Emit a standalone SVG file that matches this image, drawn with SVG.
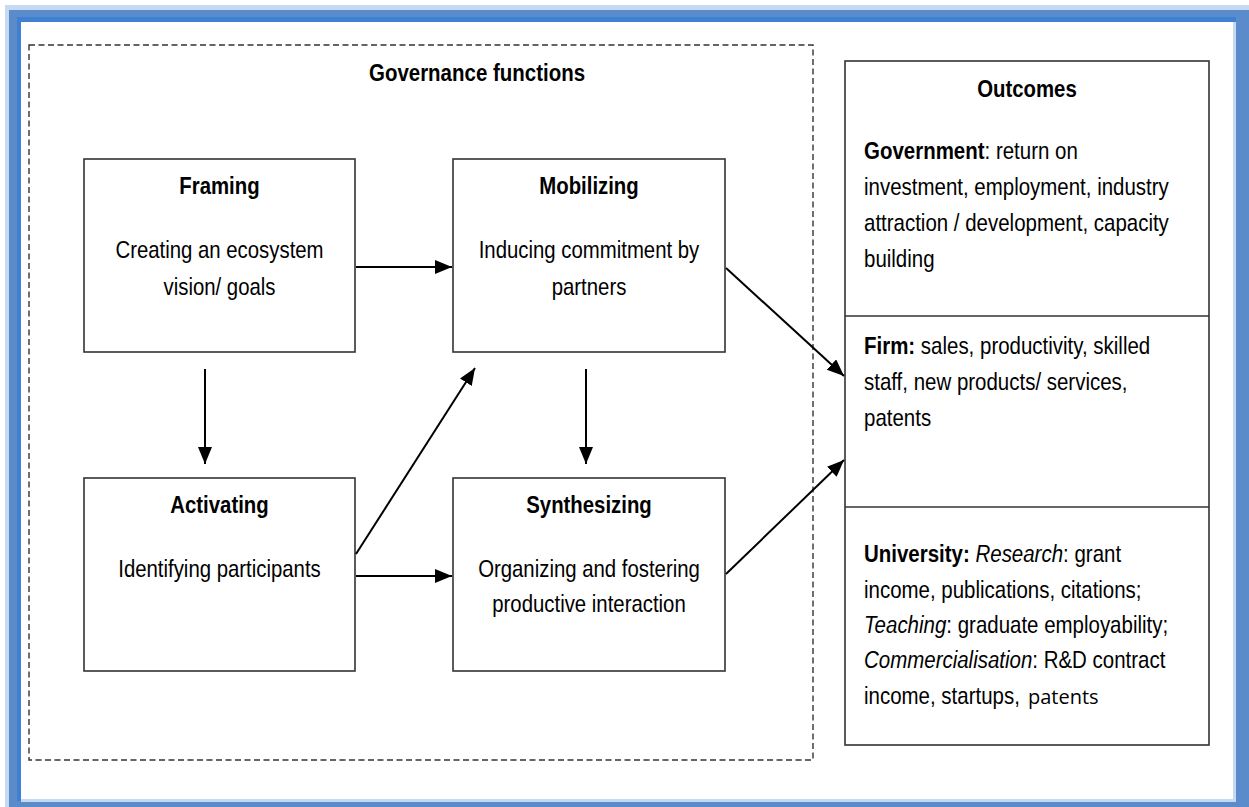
<svg xmlns="http://www.w3.org/2000/svg" width="1249" height="807" viewBox="0 0 1249 807">
<defs>
<marker id="ah" markerUnits="userSpaceOnUse" markerWidth="19" markerHeight="15" refX="17" refY="7" orient="auto">
<path d="M0,0 L17,7 L0,14 z" fill="#000"/>
</marker>
</defs>
<style>
.t{font-family:"Liberation Sans",Arial,sans-serif;font-size:24px;fill:#000}
.b{font-weight:bold}
.box{fill:#fff;stroke:#333;stroke-width:1.6}
.con{stroke:#000;stroke-width:2;fill:none;marker-end:url(#ah)}
</style>
<g id="frame">
<rect x="5" y="5" width="1244" height="802" fill="#c6d9f0"/>
<rect x="9" y="10" width="1240" height="797" fill="#5a8bcb"/>
<rect x="17" y="17" width="1219" height="784" fill="#3f80d2"/>
<rect x="21" y="22" width="1215" height="780" fill="#c6d9f0"/>
<rect x="21" y="22" width="1212" height="777" fill="#fff"/>
</g>
<g id="governance">
<rect x="29" y="45" width="784" height="715" fill="none" stroke="#333" stroke-width="1.4" stroke-dasharray="6,3.5"/>
<text class="t b" transform="translate(477,0) scale(0.853,1)" x="0" y="81" text-anchor="middle">Governance functions</text>
</g>
<g id="framing">
<rect class="box" x="84" y="159" width="271" height="193"/>
<g transform="translate(219.5,0) scale(0.848,1)">
<text class="t b" x="0" y="194" text-anchor="middle">Framing</text>
<text class="t" x="0" y="258" text-anchor="middle">Creating an ecosystem</text>
<text class="t" x="0" y="295" text-anchor="middle">vision/ goals</text>
</g>
</g>
<g id="mobilizing">
<rect class="box" x="453" y="159" width="272" height="193"/>
<g transform="translate(589,0) scale(0.848,1)">
<text class="t b" x="0" y="194" text-anchor="middle">Mobilizing</text>
<text class="t" x="0" y="258" text-anchor="middle">Inducing commitment by</text>
<text class="t" x="0" y="295" text-anchor="middle">partners</text>
</g>
</g>
<g id="activating">
<rect class="box" x="84" y="478" width="271" height="193"/>
<g transform="translate(219.5,0) scale(0.848,1)">
<text class="t b" x="0" y="513" text-anchor="middle">Activating</text>
<text class="t" x="0" y="577" text-anchor="middle">Identifying participants</text>
</g>
</g>
<g id="synthesizing">
<rect class="box" x="453" y="478" width="272" height="193"/>
<g transform="translate(589,0) scale(0.848,1)">
<text class="t b" x="0" y="513" text-anchor="middle">Synthesizing</text>
<text class="t" x="0" y="577" text-anchor="middle">Organizing and fostering</text>
<text class="t" x="0" y="612" text-anchor="middle">productive interaction</text>
</g>
</g>
<g id="outcomes">
<rect class="box" x="845" y="61" width="364" height="684"/>
<line x1="845" y1="316" x2="1209" y2="316" stroke="#333" stroke-width="1.6"/>
<line x1="845" y1="507" x2="1209" y2="507" stroke="#333" stroke-width="1.6"/>
<text class="t b" transform="translate(1027,0) scale(0.848,1)" x="0" y="97" text-anchor="middle">Outcomes</text>
<g transform="translate(864,0) scale(0.853,1)">
<text class="t" x="0" y="159"><tspan class="b">Government</tspan>: return on</text>
<text class="t" x="0" y="195">investment, employment, industry</text>
<text class="t" x="0" y="231">attraction / development, capacity</text>
<text class="t" x="0" y="267">building</text>
<text class="t" x="0" y="354"><tspan class="b">Firm:</tspan> sales, productivity, skilled</text>
<text class="t" x="0" y="390">staff, new products/ services,</text>
<text class="t" x="0" y="426">patents</text>
<text class="t" x="0" y="562"><tspan class="b">University:</tspan> <tspan font-style="italic">Research</tspan>: grant</text>
<text class="t" x="0" y="598">income, publications, citations;</text>
<text class="t" x="0" y="633"><tspan font-style="italic">Teaching</tspan>: graduate employability;</text>
<text class="t" x="0" y="668"><tspan font-style="italic">Commercialisation</tspan>: R&amp;D contract</text>
<text class="t" x="0" y="704">income, startups,</text>
</g>
<text x="1028" y="704" font-family="'Open Sans','Noto Sans',sans-serif" font-size="20" fill="#000">patents</text>
</g>
<g id="connectors">
<line class="con" x1="356" y1="267" x2="452" y2="267"/>
<line class="con" x1="205" y1="369" x2="205" y2="464"/>
<line class="con" x1="356" y1="554" x2="475" y2="368"/>
<line class="con" x1="356" y1="576" x2="452" y2="576"/>
<line class="con" x1="586" y1="369" x2="586" y2="464"/>
<line class="con" x1="726" y1="268" x2="844" y2="376"/>
<line class="con" x1="726" y1="574" x2="844" y2="460"/>
</g>
</svg>
